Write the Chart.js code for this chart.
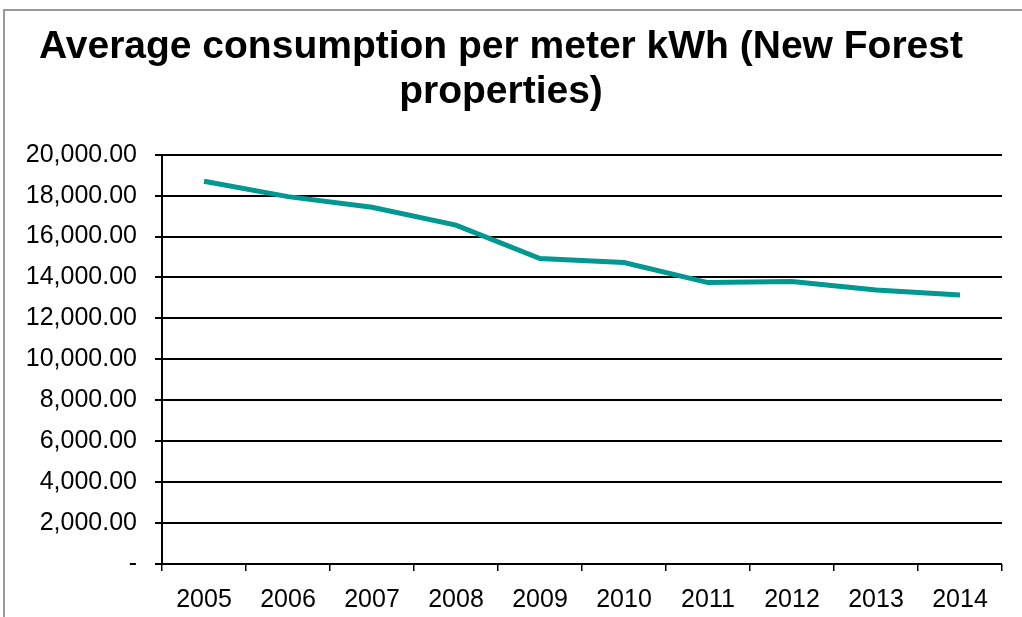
<!DOCTYPE html>
<html>
<head>
<meta charset="utf-8">
<script src="https://cdn.jsdelivr.net/npm/chart.js@4/dist/chart.umd.min.js"></script>
<style>
  html, body { margin: 0; padding: 0; background: #fff; }
  #wrap { position: relative; width: 1022px; height: 617px; overflow: hidden; }
  #frame { position: absolute; left: 3px; top: 9px; right: -5px; bottom: -5px; border-left: 2px solid #9a9a9a; border-top: 2px solid #9a9a9a; }
  canvas { position: absolute; left: 0; top: 0; }
</style>
</head>
<body>
<div id="wrap">
  <div id="frame"></div>
  <canvas id="chart" width="1022" height="617"></canvas>
</div>
<script>
// chart data
const years = ["2005", "2006", "2007", "2008", "2009", "2010", "2011", "2012", "2013", "2014"];
const avg_consumption = [18700, 17950, 17430, 16560, 14930, 14730, 13750, 13800, 13390, 13150];
const y_ticks = [0, 2000, 4000, 6000, 8000, 10000, 12000, 14000, 16000, 18000, 20000];

// accounting style labels, zero shown as a dash
function formatTick(value) {
  if (value === 0) return "-";
  return value.toLocaleString("en-US", { minimumFractionDigits: 2, maximumFractionDigits: 2 });
}

const font_family = "'Liberation Sans', Arial, sans-serif";

const ctx = document.getElementById("chart").getContext("2d");
const myChart = new Chart(ctx, {
  type: "line",
  data: {
    labels: years,
    datasets: [{
      label: "Average consumption per meter kWh",
      data: avg_consumption,
      borderColor: "#009891",
      borderWidth: 5,
      pointRadius: 0,
      tension: 0,
      fill: false,
    }],
  },
  options: {
    responsive: false,
    animation: false,
    layout: { padding: { left: 0, right: 20, top: 0, bottom: 0 } },
    plugins: {
      legend: { display: false },
      tooltip: { enabled: false },
      title: {
        display: true,
        text: ["Average consumption per meter kWh (New Forest", "properties)"],
        color: "#000",
        font: { family: font_family, size: 39, weight: "bold", lineHeight: 1.15 },
        padding: { top: 25, bottom: 40 },
      },
    },
    scales: {
      x: {
        offset: true,
        afterFit: (axis) => { axis.height = 53; },
        grid: { offset: true, drawOnChartArea: false, drawTicks: true, tickLength: 7, color: "#000", lineWidth: 1.5 },
        border: { display: false },
        ticks: { color: "#000", padding: 14, font: { family: font_family, size: 25 }, maxRotation: 0 },
      },
      y: {
        min: 0,
        max: 20000,
        afterBuildTicks: (axis) => { axis.ticks = y_ticks.map((v) => ({ value: v })); },
        afterFit: (axis) => { axis.width = 162; },
        grid: { color: "#000", lineWidth: 2, tickLength: 7 },
        border: { display: true, color: "#000", width: 2 },
        ticks: { color: "#000", padding: 18, font: { family: font_family, size: 25 }, callback: formatTick },
      },
    },
  },
});
</script>
</body>
</html>
